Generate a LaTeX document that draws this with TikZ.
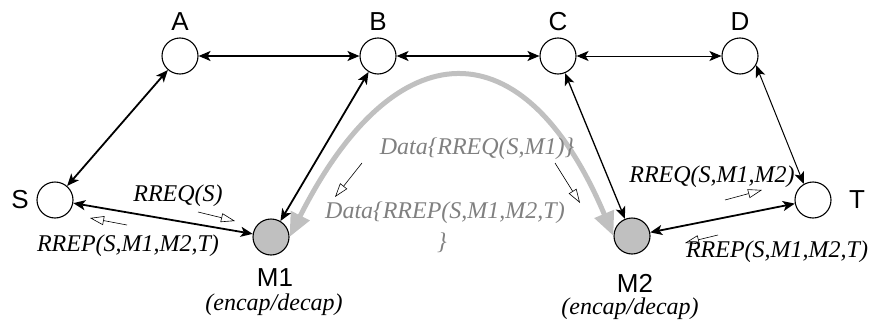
\documentclass[tikz,border=0pt]{standalone}
\usepackage{fontspec}
\setmainfont{Liberation Serif}
\setsansfont{Liberation Sans}
\usetikzlibrary{arrows.meta}
\definecolor{arcgrey}{RGB}{192,192,192}
\definecolor{txtgrey}{RGB}{128,128,128}
\definecolor{hostgrey}{RGB}{192,192,192}
\tikzset{
  router/.style={circle,draw,line width=1.1pt,minimum size=36pt,inner sep=0pt},
  mnode/.style={router,fill=hostgrey},
  lbl/.style={font=\sffamily\fontsize{26}{26}\selectfont,inner sep=0pt},
  msg/.style={font=\itshape\fontsize{24}{24}\selectfont,inner sep=0pt},
  link/.style={{Stealth[length=12pt,width=10pt,inset=3pt]}-{Stealth[length=12pt,width=10pt,inset=3pt]}},
  hint/.style={-{Triangle[open,length=14pt,width=9pt]},line width=0.6pt},
}
\begin{document}
\begin{tikzpicture}[x=1pt,y=-1pt]
\useasboundingbox (0,0) rectangle (877,324);

\node[router] (S) at (55,200) {};
\node[router] (A) at (180,56) {};
\node[router] (B) at (378,56) {};
\node[router] (C) at (558,56) {};
\node[router] (D) at (740,56) {};
\node[router] (T) at (813,200) {};
\node[mnode] (M1) at (271,237) {};
\node[mnode] (M2) at (632,236) {};

\node[lbl] (lS) at (20,200) {S};
\node[lbl] (lA) at (180,22) {A};
\node[lbl] (lB) at (378,22) {B};
\node[lbl] (lC) at (558,22) {C};
\node[lbl] (lD) at (740,22) {D};
\node[lbl] (lT) at (857,200) {T};
\node[lbl] (lM1) at (275,278) {M1};
\node[lbl] (lM2) at (635,283) {M2};
\node[msg] (e1) at (274,305) {(encap/decap)};
\node[msg] (e2) at (630,309) {(encap/decap)};

\draw[arcgrey,line width=5pt,{Triangle[length=24pt,width=20pt]}-{Triangle[length=24pt,width=20pt]}]
  (M1.east) .. controls (395,28) and (524,24) .. (M2.west);

\draw[link,line width=1.8pt] (S) -- (A);
\draw[link,line width=1.5pt] (A) -- (B);
\draw[link,line width=1.5pt] (B) -- (C);
\draw[link,line width=1pt] (C) -- (D);
\draw[link,line width=1.8pt] (S) -- (M1);
\draw[link,line width=1.8pt] (M1) -- (B);
\draw[link,line width=1.3pt] (M2) -- (C);
\draw[link,line width=1pt] (D.-30) -- (T.120);
\draw[link,line width=1.8pt] (M2) -- (T);

\node[msg] (q1) at (178,196) {RREQ(S)};
\node[msg] (p1) at (128,246) {RREP(S,M1,M2,T)};
\node[msg,txtgrey] (q2) at (477,149) {Data\{RREQ(S,M1)\}};
\node[msg,txtgrey] (p2) at (445,213) {Data\{RREP(S,M1,M2,T)};
\node[msg,txtgrey] (p2b) at (442,243) {\}};
\node[msg] (q3) at (712,177) {RREQ(S,M1,M2)};
\node[msg] (p3) at (777,252) {RREP(S,M1,M2,T)};

\coordinate (h1a) at (198,212); \coordinate (h1b) at (235,221);
\coordinate (h2a) at (127,225); \coordinate (h2b) at (90,218);
\coordinate (h3a) at (362,163); \coordinate (h3b) at (335,197);
\coordinate (h4a) at (555,163); \coordinate (h4b) at (580,203);
\coordinate (h5a) at (725,200); \coordinate (h5b) at (762,190);
\coordinate (h6a) at (718,235); \coordinate (h6b) at (685,243);
\draw[hint] (h1a) -- (h1b);
\draw[hint] (h2a) -- (h2b);
\draw[hint] (h3a) -- (h3b);
\draw[hint] (h4a) -- (h4b);
\draw[hint] (h5a) -- (h5b);
\draw[hint] (h6a) -- (h6b);
\end{tikzpicture}
\end{document}
